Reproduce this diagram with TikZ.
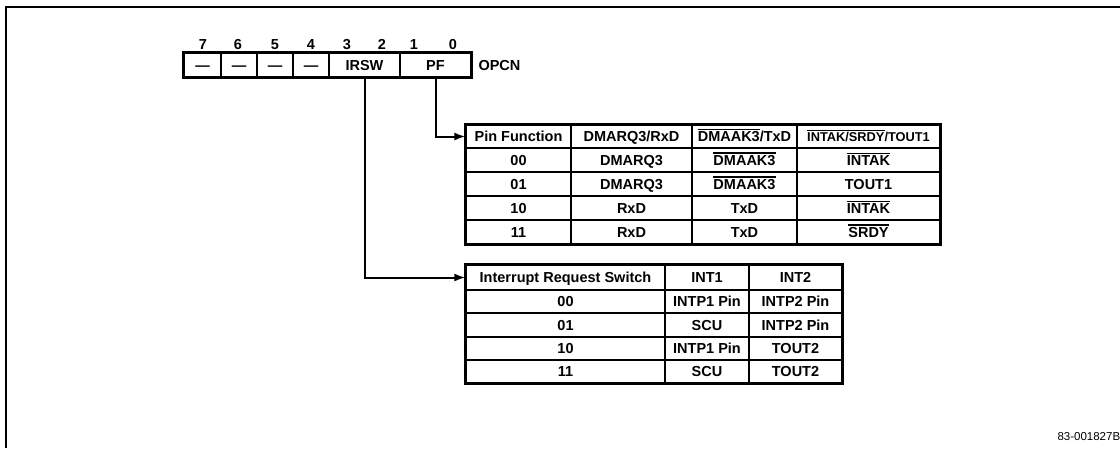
\documentclass[tikz,border=0pt]{standalone}
\usepackage{fontspec}
\setmainfont{Liberation Sans}
\usetikzlibrary{arrows.meta}
\newcommand{\ovl}[1]{\setbox0\hbox{#1}\rlap{\rule[\dimexpr\ht0+1.6pt\relax]{\wd0}{1.1pt}}\box0}
\newcommand{\tcell}[6]{\node[cellbox, minimum width={(#4-#2)*1pt}, minimum height={(#5-#3)*1pt}] (#1) at ({(#2+#4)/2},{(#3+#5)/2}) {#6};}
\begin{document}
\begin{tikzpicture}[x=1pt,y=-1pt,
  font=\fontsize{14.5}{16}\selectfont\bfseries,
  cellbox/.style={draw, line width=1.2pt, inner sep=0pt, anchor=center, text height=10.5pt, text depth=0pt},
  frameline/.style={line width=2.4pt},
  bitnum/.style={inner sep=0pt, anchor=center, text height=10.5pt, text depth=0pt},
  conn/.style={line width=2pt, -{Latex[length=11pt,width=8pt]}}]
\useasboundingbox (0,0) rectangle (1120,448);

% page frame
\coordinate (fa) at (6,448);
\coordinate (fb) at (6,7);
\coordinate (fc) at (1120,7);
\draw[frameline] (fa) -- (fb) -- (fc);

% register OPCN
\tcell{r7}{184}{53}{221}{77}{---}
\tcell{r6}{221}{53}{257}{77}{---}
\tcell{r5}{257}{53}{293}{77}{---}
\tcell{r4}{293}{53}{329}{77}{---}
\tcell{irsw}{329}{53}{400}{77}{IRSW}
\tcell{pf}{400}{53}{471}{77}{PF}
\draw[frameline] (r7.north west) rectangle (pf.south east);
\node[anchor=west, text height=10.5pt, text depth=0pt] (opcn) at (475,65) {OPCN};

\node[bitnum] (b7) at (203,44) {7};
\node[bitnum] (b6) at (238,44) {6};
\node[bitnum] (b5) at (275,44) {5};
\node[bitnum] (b4) at (311,44) {4};
\node[bitnum] (b3) at (347,44) {3};
\node[bitnum] (b2) at (382,44) {2};
\node[bitnum] (b1) at (414,44) {1};
\node[bitnum] (b0) at (453,44) {0};

% table 1: pin function
\tcell{t1h0}{466}{125}{571}{148}{Pin Function}
\tcell{t1h1}{571}{125}{692}{148}{DMARQ3/RxD}
\tcell{t1h2}{692}{125}{797}{148}{\ovl{DMAAK3}/TxD}
\tcell{t1h3}{797}{125}{940}{148}{\fontsize{12.8}{14}\selectfont\ovl{INTAK/SRDY}/TOUT1}

\tcell{t1a0}{466}{148}{571}{172}{00}
\tcell{t1a1}{571}{148}{692}{172}{DMARQ3}
\tcell{t1a2}{692}{148}{797}{172}{\ovl{DMAAK3}}
\tcell{t1a3}{797}{148}{940}{172}{\ovl{INTAK}}

\tcell{t1b0}{466}{172}{571}{196}{01}
\tcell{t1b1}{571}{172}{692}{196}{DMARQ3}
\tcell{t1b2}{692}{172}{797}{196}{\ovl{DMAAK3}}
\tcell{t1b3}{797}{172}{940}{196}{TOUT1}

\tcell{t1c0}{466}{196}{571}{220}{10}
\tcell{t1c1}{571}{196}{692}{220}{RxD}
\tcell{t1c2}{692}{196}{797}{220}{TxD}
\tcell{t1c3}{797}{196}{940}{220}{\ovl{INTAK}}

\tcell{t1d0}{466}{220}{571}{244}{11}
\tcell{t1d1}{571}{220}{692}{244}{RxD}
\tcell{t1d2}{692}{220}{797}{244}{TxD}
\tcell{t1d3}{797}{220}{940}{244}{\ovl{SRDY}}
\draw[frameline] (t1h0.north west) rectangle (t1d3.south east);

% table 2: interrupt request switch
\tcell{t2h0}{466}{265}{665}{290}{Interrupt Request Switch}
\tcell{t2h1}{665}{265}{749}{290}{INT1}
\tcell{t2h2}{749}{265}{842}{290}{INT2}

\tcell{t2a0}{466}{290}{665}{313}{00}
\tcell{t2a1}{665}{290}{749}{313}{INTP1 Pin}
\tcell{t2a2}{749}{290}{842}{313}{INTP2 Pin}

\tcell{t2b0}{466}{313}{665}{337}{01}
\tcell{t2b1}{665}{313}{749}{337}{SCU}
\tcell{t2b2}{749}{313}{842}{337}{INTP2 Pin}

\tcell{t2c0}{466}{337}{665}{360}{10}
\tcell{t2c1}{665}{337}{749}{360}{INTP1 Pin}
\tcell{t2c2}{749}{337}{842}{360}{TOUT2}

\tcell{t2d0}{466}{360}{665}{383}{11}
\tcell{t2d1}{665}{360}{749}{383}{SCU}
\tcell{t2d2}{749}{360}{842}{383}{TOUT2}
\draw[frameline] (t2h0.north west) rectangle (t2d2.south east);

% connectors
\draw[conn] (pf.south) |- (t1h0.west);
\draw[conn] (irsw.south) |- (t2h0.west);

% figure number
\node[anchor=west, font=\fontsize{11.5}{13}\selectfont] (fignum) at (1054,437) {83-001827B};
\end{tikzpicture}
\end{document}
